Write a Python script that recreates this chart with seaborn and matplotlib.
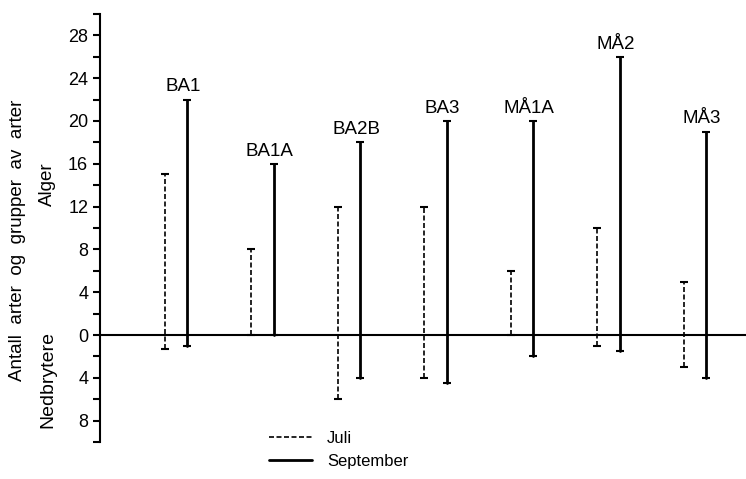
import numpy as np
import pandas as pd
import matplotlib
matplotlib.use("Agg")
import matplotlib.pyplot as plt
import seaborn as sns
from matplotlib.lines import Line2D

# data
stations = ["BA1", "BA1A", "BA2B", "BA3", "MÅ1A", "MÅ2", "MÅ3"]
alger_juli = [15, 8, 12, 12, 6, 10, 5]
alger_sept = [22, 16, 18, 20, 20, 26, 19]
nedbr_juli = [1.3, 0, 6, 4, 0, 1, 3]
nedbr_sept = [1, 0, 4, 4.5, 2, 1.5, 4]
yticks = [-8, -4, 0, 4, 8, 12, 16, 20, 24, 28]

sns.set_style("ticks")
plt.rcParams["font.family"] = ["Liberation Sans", "DejaVu Sans"]
plt.rcParams["text.color"] = "black"
plt.rcParams["ytick.color"] = "black"
plt.rcParams["axes.edgecolor"] = "black"

rows = []
for i, st in enumerate(stations):
    rows.append(dict(station=st, month="Juli", x=i - 0.13, lo=-nedbr_juli[i], hi=alger_juli[i]))
    rows.append(dict(station=st, month="September", x=i + 0.13, lo=-nedbr_sept[i], hi=alger_sept[i]))
df = pd.DataFrame(rows)
df["key"] = df["station"] + "_" + df["month"]
long = df.melt(id_vars=["key", "station", "month", "x"], value_vars=["lo", "hi"],
               value_name="val")

fig = plt.figure(figsize=(7.46, 4.79), dpi=100)
ax = fig.add_axes([0.134, 0.077, 0.866, 0.894])

ax.axhline(0, color="black", lw=1.5, zorder=1)

sns.lineplot(data=long, x="x", y="val", units="key", estimator=None, sort=False,
             style="month", dashes={"Juli": (3, 1.5), "September": ""},
             size="month", sizes={"Juli": 1.2, "September": 2.0},
             color="black", legend=False, ax=ax)
sns.scatterplot(data=long, x="x", y="val", marker="_", s=35, color="black",
                linewidth=1.5, legend=False, ax=ax, zorder=3)

sept = df[df["month"] == "September"]
for _, r in sept.iterrows():
    ax.annotate(r["station"], (r["x"], r["hi"]), xytext=(-3, 3),
                textcoords="offset points", ha="center", va="bottom", fontsize=13.5)

ax.set_xlim(-0.88, 6.59)
ax.set_ylim(-10, 30)
ax.set_yticks(yticks)
ax.set_yticklabels([str(abs(t)) for t in yticks], fontsize=13)
ax.set_yticks(np.arange(-10, 31, 2), minor=True)
ax.tick_params(axis="y", which="both", direction="out", length=5, width=1.5,
               colors="black")
ax.set_xticks([])
ax.set_xlabel("")
ax.set_ylabel("")
for side in ["top", "right", "bottom"]:
    ax.spines[side].set_visible(False)
ax.spines["left"].set_linewidth(1.5)

fig.text(0.024, 0.499, "Antall  arter  og  grupper  av  arter", rotation=90,
         ha="center", va="center", fontsize=13.5)
fig.text(0.064, 0.615, "Alger", rotation=90, ha="center", va="center", fontsize=13.5)
fig.text(0.064, 0.207, "Nedbrytere", rotation=90, ha="center", va="center", fontsize=14)

handles = [Line2D([], [], color="black", lw=1.2, ls=(0, (3, 1.5))),
           Line2D([], [], color="black", lw=2.0)]
fig.legend(handles, ["Juli", "September"], loc="lower left",
           bbox_to_anchor=(0.34, -0.01), frameon=False, fontsize=12,
           handlelength=2.6, handletextpad=0.9, labelspacing=0.45)

fig.savefig("out.png", dpi=100)
